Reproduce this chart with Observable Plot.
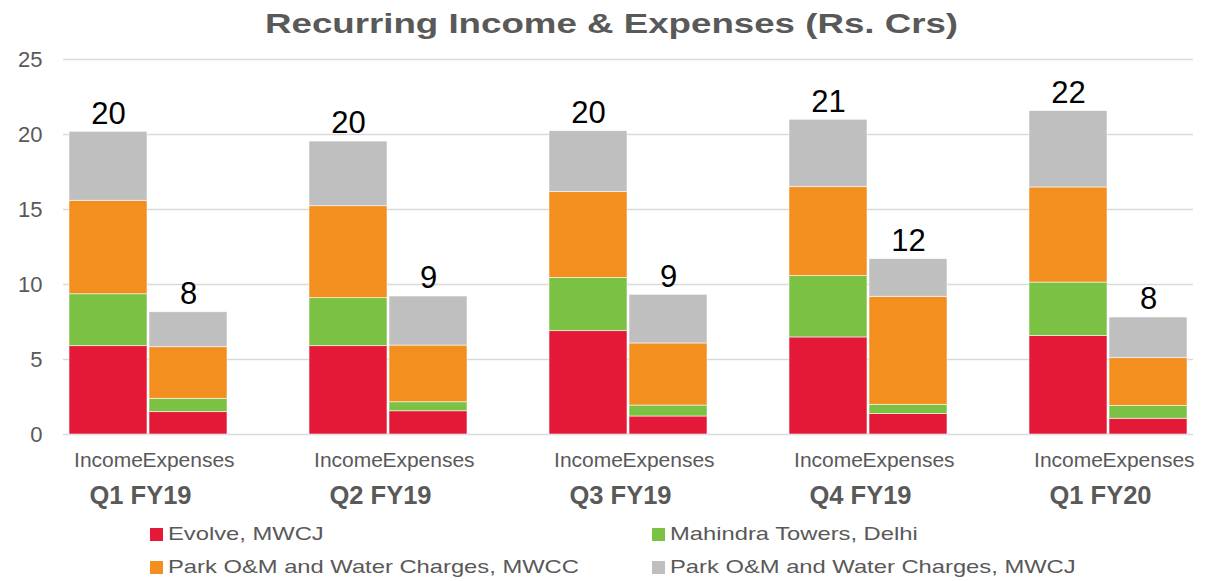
<!DOCTYPE html>
<html>
<head>
<meta charset="utf-8">
<script src="https://cdn.jsdelivr.net/npm/d3@7"></script>
<script src="https://cdn.jsdelivr.net/npm/@observablehq/plot@0.6"></script>
<style>
  body { margin: 0; background: #fff; font-family: "Liberation Sans", Arial, sans-serif; }
  #wrap { width: 1216px; height: 581px; position: relative; overflow: hidden; }
  #title { height: 45px; line-height: 42px; padding-top: 3px; box-sizing: border-box; text-align: center;
           font-weight: bold; font-size: 28px; color: #595959; white-space: nowrap; }
  #title span { display: inline-block; transform: translateX(4px) scaleX(1.31); }
  #chart svg { display: block; }
  #legend { display: grid; grid-template-columns: 502px 502px; padding-left: 150px; padding-top: 2.5px; }
  .item { display: flex; align-items: center; height: 33px; }
  .sw { width: 13px; height: 13px; margin-right: 5px; flex: none; }
  .lt { font-size: 19px; color: #595959; display: inline-block; transform: scaleX(1.25);
        transform-origin: left center; white-space: nowrap; }
</style>
</head>
<body>
<div id="wrap">
  <div id="title"><span>Recurring Income &amp; Expenses (Rs. Crs)</span></div>
  <div id="chart"></div>
  <div id="legend"></div>
</div>
<script>
// ---- Data ----
const quarters = ["Q1 FY19", "Q2 FY19", "Q3 FY19", "Q4 FY19", "Q1 FY20"];
const types = ["Income", "Expenses"];
const seriesNames = [
  "Evolve, MWCJ",
  "Mahindra Towers, Delhi",
  "Park O&M and Water Charges, MWCC",
  "Park O&M and Water Charges, MWCJ"
];
const seriesColors = ["#E31937", "#7BC143", "#F28F1F", "#BFBFBF"];
// values ordered: Q1 Inc, Q1 Exp, Q2 Inc, Q2 Exp, Q3 Inc, Q3 Exp, Q4 Inc, Q4 Exp, Q1FY20 Inc, Q1FY20 Exp
const evolve   = [5.89, 1.49, 5.89, 1.55, 6.89, 1.20, 6.47, 1.36, 6.56, 1.05];
const mahindra = [3.46, 0.89, 3.20, 0.60, 3.55, 0.73, 4.09, 0.62, 3.57, 0.86];
const parkMWCC = [6.23, 3.44, 6.13, 3.78, 5.72, 4.14, 5.93, 7.20, 6.34, 3.18];
const parkMWCJ = [4.60, 2.33, 4.31, 3.27, 4.06, 3.24, 4.49, 2.51, 5.09, 2.71];
const yTicks = [0, 5, 10, 15, 20, 25];

const seriesValues = [evolve, mahindra, parkMWCC, parkMWCJ];

// ---- Build tables ----
const keys = [];
quarters.forEach((q, i) => {
  types.forEach(t => keys.push(q + "|" + t));
  if (i < quarters.length - 1) keys.push(q + "|gap");
});

const rows = [];
seriesNames.forEach((s, si) => {
  quarters.forEach((q, qi) => {
    types.forEach((t, ti) => {
      rows.push({ key: q + "|" + t, series: s, value: seriesValues[si][qi * 2 + ti] });
    });
  });
});

const totals = [];
quarters.forEach((q, qi) => {
  types.forEach((t, ti) => {
    totals.push({ key: q + "|" + t, quarter: q, type: t,
                  total: d3.sum(seriesValues, v => v[qi * 2 + ti]) });
  });
});

// ---- Chart ----
const chart = Plot.plot({
  width: 1216,
  height: 470,
  marginTop: 14,
  marginLeft: 63,
  marginRight: 23,
  marginBottom: 81,
  style: { fontFamily: "Liberation Sans, Arial, sans-serif", background: "transparent", overflow: "visible" },
  x: { domain: keys, padding: 0.03, axis: null },
  y: { domain: [0, 25], label: null },
  color: { domain: seriesNames, range: seriesColors },
  marks: [
    Plot.gridY(yTicks, { stroke: "#d9d9d9", strokeOpacity: 1, strokeWidth: 1.5 }),
    Plot.axisY(yTicks, { tickSize: 0, tickPadding: 21, fontSize: 22, fill: "#595959", label: null }),
    Plot.barY(rows, { x: "key", y: "value", fill: "series", stroke: "white", strokeWidth: 0.8, strokeOpacity: 0.7 }),
    Plot.text(totals, { x: "key", y: "total", text: d => d3.format(".0f")(d.total),
                        fontSize: 31, fill: "#000", dy: -18 }),
    Plot.text(totals, { x: "key", text: "type", frameAnchor: "bottom", lineAnchor: "top",
                        dy: 18, fontSize: 21, fill: "#595959" }),
    Plot.text(totals.filter(d => d.type === "Income"), { x: "key", text: "quarter", frameAnchor: "bottom",
                        lineAnchor: "top", dy: 51, dx: 32, fontSize: 25.5, fontWeight: "bold", fill: "#595959" })
  ]
});
document.getElementById("chart").appendChild(chart);

// ---- Legend ----
const legend = document.getElementById("legend");
seriesNames.forEach((name, i) => {
  const item = document.createElement("div");
  item.className = "item";
  const sw = document.createElement("span");
  sw.className = "sw";
  sw.style.background = seriesColors[i];
  const lt = document.createElement("span");
  lt.className = "lt";
  lt.textContent = name;
  item.appendChild(sw);
  item.appendChild(lt);
  legend.appendChild(item);
});
</script>
</body>
</html>
